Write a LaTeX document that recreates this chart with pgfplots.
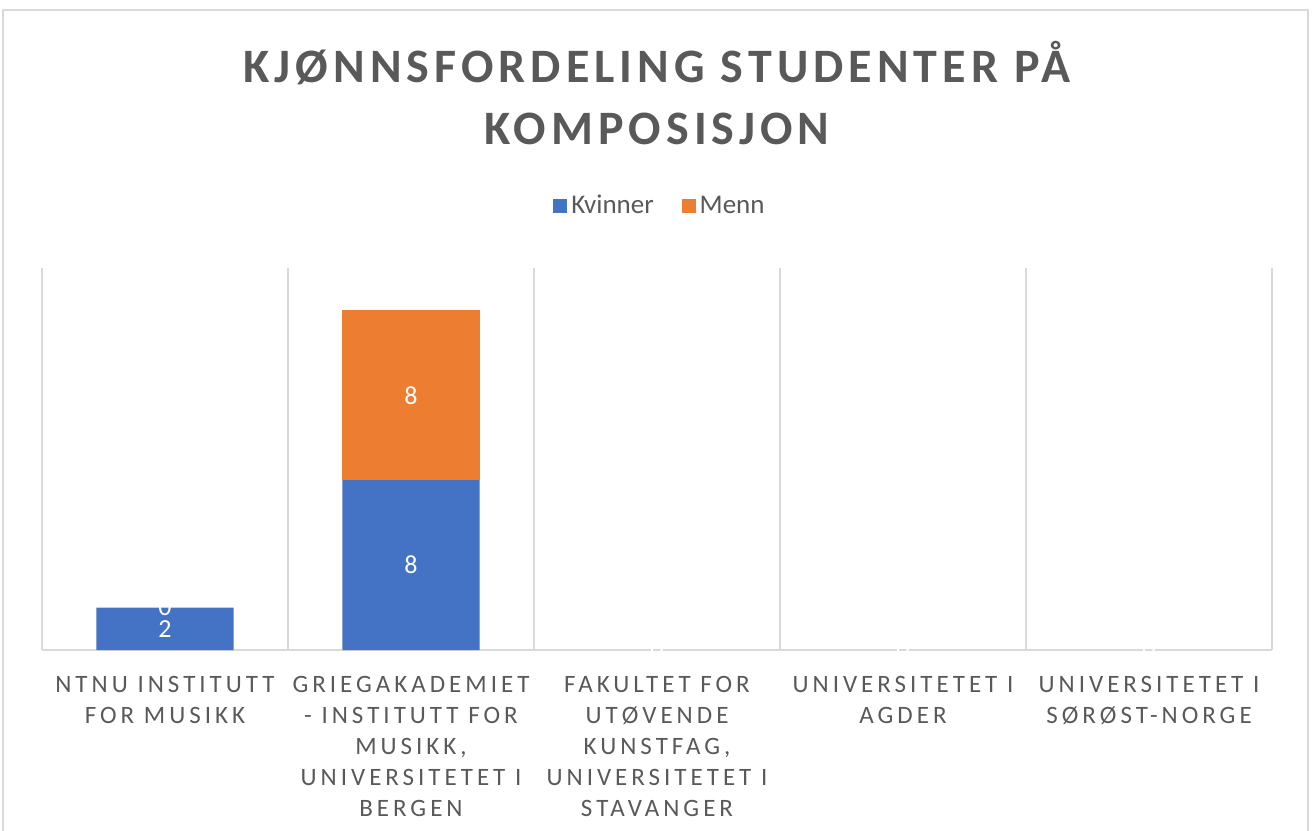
\documentclass[border=0pt]{standalone}
\usepackage{pgfplots}
\pgfplotsset{compat=1.18}
\usepackage{fontspec}
\setmainfont{Carlito}
\newfontfamily\titlefont[LetterSpace=10.5]{Carlito}
\newfontfamily\tickfont[LetterSpace=16]{Carlito}
\definecolor{kblue}{HTML}{4472C4}
\definecolor{morange}{HTML}{ED7D31}
\definecolor{txtgray}{HTML}{595959}
\definecolor{gridgray}{HTML}{D9D9D9}
\definecolor{framegray}{HTML}{D9D9D9}
\begin{document}
\begin{tikzpicture}
\useasboundingbox (-21bp,-90.5bp) rectangle (636bp,325bp);
\draw[framegray, line width=1bp] (-19.5bp,-92bp) -- (-19.5bp,320bp) -- (633bp,320bp) -- (633bp,-92bp);
\node[text=txtgray, align=center, font=\titlefont\bfseries\fontsize{24bp}{31bp}\selectfont] at (307.5bp,278.5bp) {KJØNNSFORDELING STUDENTER PÅ\\KOMPOSISJON};
\begin{axis}[
  at={(0,0)}, anchor=south west,
  scale only axis, width=615bp, height=191bp,
  xmin=-0.5, xmax=4.5, ymin=0, ymax=18,
  ybar stacked, bar width=0.557,
  axis x line=bottom, axis y line=none,
  axis line style={draw=gridgray, line width=0.9bp, -},
  xtick={0,1,2,3,4},
  major tick length=0pt, minor tick length=0pt,
  minor xtick={-0.5,0.5,1.5,2.5,3.5,4.5},
  xminorgrids, minor grid style={draw=gridgray, line width=0.9bp},
  ytick=\empty,
  xticklabels={{NTNU INSTITUTT\\FOR MUSIKK},{GRIEGAKADEMIET\\- INSTITUTT FOR\\MUSIKK,\\UNIVERSITETET I\\BERGEN},{FAKULTET FOR\\UTØVENDE\\KUNSTFAG,\\UNIVERSITETET I\\STAVANGER},{UNIVERSITETET I\\AGDER},{UNIVERSITETET I\\SØRØST-NORGE}},
  xticklabel style={align=center, text=txtgray, font=\tickfont\fontsize{12.5bp}{15.5bp}\selectfont, yshift=-9.5bp},
  clip=false,
  /pgf/number format/assume math mode=true,
  nodes near coords,
  every node near coord/.append style={font=\fontsize{13bp}{15bp}\selectfont, text=white, anchor=center},
  legend style={at={(0.5,1.162)}, xshift=2bp, anchor=center, draw=none, fill=none, text=txtgray, font=\fontsize{13.5bp}{15bp}\selectfont, legend columns=-1, /tikz/every even column/.append style={column sep=12bp}},
]
\addplot[fill=kblue, draw=none, legend image code/.code={\fill[kblue] (-5.5bp,-3.5bp) rectangle (1.5bp,3.5bp);}] coordinates {(0,2) (1,8) (2,0) (3,0) (4,0)};
\addplot[fill=morange, draw=none, legend image code/.code={\fill[morange] (-5.5bp,-3.5bp) rectangle (1.5bp,3.5bp);}] coordinates {(0,0) (1,8) (2,0) (3,0) (4,0)};
\legend{Kvinner, Menn}
% zero-value data labels (white, as in the source chart), placed at the top of each stack
\addplot[forget plot, stack plots=false, draw=none, fill=none, point meta=explicit symbolic, visualization depends on={rawy \as \rawy}, nodes near coords, every node near coord/.append style={text=white, anchor=center, yshift=\rawy*5.3056bp}] coordinates {(0,2) [0] (2,0) [0] (3,0) [0] (4,0) [0]};
\end{axis}
\end{tikzpicture}
\end{document}
